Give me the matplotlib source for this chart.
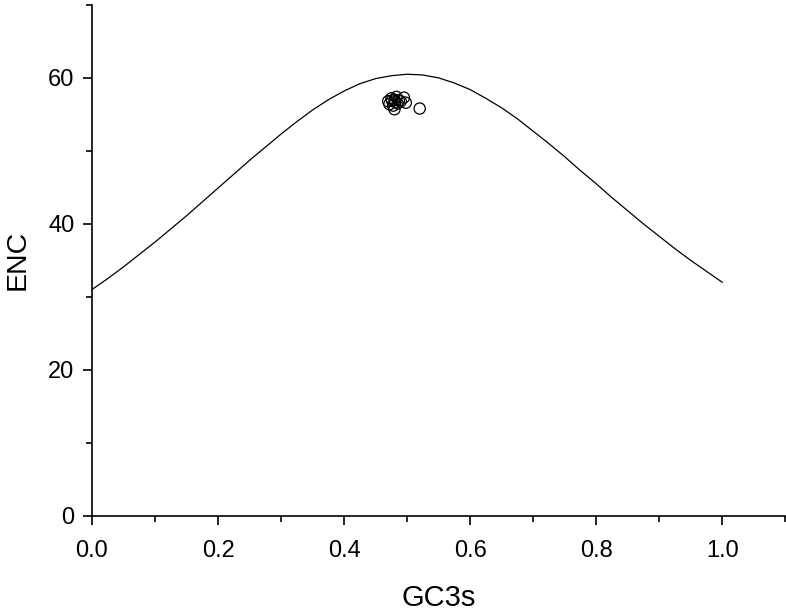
import matplotlib
matplotlib.use("Agg")
import matplotlib.pyplot as plt
from matplotlib.ticker import MultipleLocator

plt.rcParams["font.family"] = ["Liberation Sans", "DejaVu Sans"]

# expected ENC curve
curve_gc3 = [0.0, 0.025, 0.05, 0.075, 0.1, 0.125, 0.15, 0.175, 0.2, 0.225, 0.25,
             0.275, 0.3, 0.325, 0.35, 0.375, 0.4, 0.425, 0.45, 0.475, 0.5,
             0.525, 0.55, 0.575, 0.6, 0.625, 0.65, 0.675, 0.7, 0.725, 0.75,
             0.775, 0.8, 0.825, 0.85, 0.875, 0.9, 0.925, 0.95, 0.975, 1.0]
curve_enc = [31.0, 32.5, 34.1, 35.8, 37.5, 39.3, 41.1, 43.0, 44.9, 46.8, 48.7,
             50.5, 52.3, 54.0, 55.6, 57.0, 58.2, 59.2, 59.9, 60.3, 60.5,
             60.4, 60.0, 59.3, 58.4, 57.2, 55.9, 54.4, 52.7, 51.0, 49.2,
             47.3, 45.5, 43.6, 41.8, 40.0, 38.3, 36.6, 35.0, 33.5, 32.0]

# genes
gc3s = [0.470, 0.475, 0.480, 0.485, 0.478, 0.490, 0.495, 0.480, 0.487,
        0.472, 0.498, 0.483, 0.476, 0.481, 0.520]
enc = [56.8, 57.2, 57.0, 56.5, 56.2, 56.8, 57.3, 55.7, 56.9,
       56.4, 56.6, 57.4, 56.9, 56.7, 55.8]

fig = plt.figure(figsize=(7.86, 6.14), dpi=100)
ax = fig.add_axes([0.117, 0.16, 0.882, 0.832])

ax.plot(curve_gc3, curve_enc, color="black", lw=0.9)
ax.scatter(gc3s, enc, s=65, facecolors="none", edgecolors="black", linewidths=0.9, zorder=3)

ax.set_xlim(0, 1.1)
ax.set_ylim(0, 70)
ax.set_xticks([0.0, 0.2, 0.4, 0.6, 0.8, 1.0])
ax.set_xticklabels(["0.0", "0.2", "0.4", "0.6", "0.8", "1.0"])
ax.set_yticks([0, 20, 40, 60])
ax.xaxis.set_minor_locator(MultipleLocator(0.1))
ax.yaxis.set_minor_locator(MultipleLocator(10))
ax.tick_params(which="both", direction="out", width=1.2, labelsize=17)
ax.tick_params(which="major", length=6.5)
ax.tick_params(axis="x", which="major", pad=11)
ax.tick_params(axis="y", which="major", pad=6)
ax.tick_params(which="minor", length=4)
for s in ["top", "right"]:
    ax.spines[s].set_visible(False)
for s in ["left", "bottom"]:
    ax.spines[s].set_linewidth(1.2)

ax.set_xlabel("GC3s", fontsize=21, labelpad=16)
ax.set_ylabel("ENC", fontsize=20.5, labelpad=13)

fig.savefig("out.png", dpi=100)
